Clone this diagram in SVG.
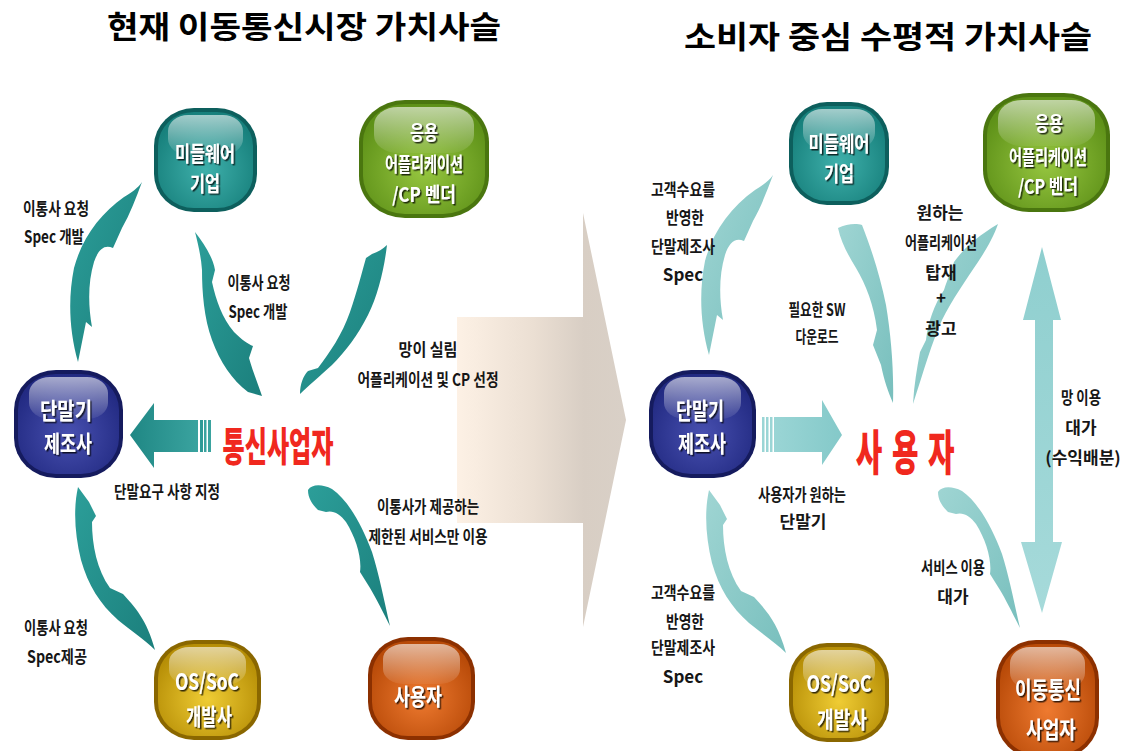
<svg xmlns="http://www.w3.org/2000/svg" width="1123" height="751" viewBox="0 0 1123 751">
<style>
.ttl{font-family:"Noto Sans CJK KR","Noto Sans",sans-serif;font-weight:bold;font-size:31px;fill:#000;text-anchor:middle}
.lb{font-family:"Noto Sans CJK KR","Noto Sans",sans-serif;font-weight:bold;font-size:17px;fill:#161616;text-anchor:middle}
.nt{font-family:"Noto Sans CJK KR","Noto Sans",sans-serif;font-weight:bold;font-size:23px;fill:#fff;text-anchor:middle;filter:url(#ts)}
.nt2{font-size:21px}
.nt3{font-size:20px}
.big{font-family:"Noto Sans CJK KR","Noto Sans",sans-serif;font-weight:900;fill:#f0281e;text-anchor:middle}
.teal .rim{fill:#0d5f5d}.teal .body{fill:url(#gTeal)}
.green .rim{fill:#4a760f}.green .body{fill:url(#gGreen)}
.navy .rim{fill:#151b5e}.navy .body{fill:url(#gNavy)}
.gold .rim{fill:#8a6700}.gold .body{fill:url(#gGold)}
.orange .rim{fill:#8c3000}.orange .body{fill:url(#gOrange)}
.hl{fill:url(#gHl)}
.swL{fill:url(#gSwL)}
.swR{fill:url(#gSwR)}
</style>
<defs>
<filter id="ts" x="-20%" y="-30%" width="140%" height="160%"><feDropShadow dx="1.5" dy="1.5" stdDeviation="0.6" flood-color="#000" flood-opacity="0.75"/></filter>
<radialGradient id="gTeal" cx="50%" cy="60%" r="60%"><stop offset="0" stop-color="#3fb0ab"/><stop offset="1" stop-color="#17807c"/></radialGradient>
<radialGradient id="gGreen" cx="50%" cy="60%" r="60%"><stop offset="0" stop-color="#96c640"/><stop offset="1" stop-color="#5e9118"/></radialGradient>
<radialGradient id="gNavy" cx="50%" cy="60%" r="60%"><stop offset="0" stop-color="#4850b0"/><stop offset="1" stop-color="#222a82"/></radialGradient>
<radialGradient id="gGold" cx="50%" cy="60%" r="60%"><stop offset="0" stop-color="#efcc34"/><stop offset="1" stop-color="#b68e06"/></radialGradient>
<radialGradient id="gOrange" cx="50%" cy="60%" r="60%"><stop offset="0" stop-color="#ee7a30"/><stop offset="1" stop-color="#b84a08"/></radialGradient>
<linearGradient id="gHl" x1="0" y1="0" x2="0" y2="1"><stop offset="0" stop-color="#fff" stop-opacity="0.6"/><stop offset="1" stop-color="#fff" stop-opacity="0.06"/></linearGradient>
<linearGradient id="gSwL" x1="0" y1="0" x2="1" y2="1"><stop offset="0" stop-color="#2c9e99"/><stop offset="1" stop-color="#1b7f7c"/></linearGradient>
<linearGradient id="gSwR" x1="0" y1="0" x2="1" y2="1"><stop offset="0" stop-color="#9fd5d3"/><stop offset="1" stop-color="#78bfbd"/></linearGradient>
<linearGradient id="gBeige" gradientUnits="userSpaceOnUse" x1="457" y1="0" x2="626" y2="0"><stop offset="0" stop-color="#fdf1e5"/><stop offset="0.45" stop-color="#ebdfd3"/><stop offset="0.75" stop-color="#d8cec4"/><stop offset="1" stop-color="#d9d0c7"/></linearGradient>
<linearGradient id="gHL" x1="0" y1="0" x2="1" y2="0"><stop offset="0" stop-color="#1f8784"/><stop offset="1" stop-color="#3aa39f"/></linearGradient>
<linearGradient id="gHR" x1="0" y1="0" x2="1" y2="0"><stop offset="0" stop-color="#9ad5d5"/><stop offset="1" stop-color="#84c9c9"/></linearGradient>
<linearGradient id="gV" x1="0" y1="0" x2="0" y2="1"><stop offset="0" stop-color="#8fcfcf"/><stop offset="1" stop-color="#a6dada"/></linearGradient>
</defs>
<rect width="1123" height="751" fill="#fff"/>

<!-- titles -->
<text class="ttl" x="304" y="38" textLength="394" lengthAdjust="spacingAndGlyphs">현재 이동통신시장 가치사슬</text>
<text class="ttl" x="888" y="48" textLength="408" lengthAdjust="spacingAndGlyphs">소비자 중심 수평적 가치사슬</text>

<!-- big transition arrow -->
<g id="transition-arrow">
<path d="M457,317 L583,317 L583,213 L626,420 L583,627 L583,523 L457,523 Z" fill="url(#gBeige)"/>
</g>

<!-- connectors -->
<g id="connectors">
<!-- left panel -->
<path class="swL" d="M142,182 C136,198 130,214 122,228 L113,248 C104,244 98,250 94,262 C88,282 88,305 92,327 L86,322 L78,362 C69,330 68,298 74,268 C82,238 100,214 124,197 C132,192 138,188 142,182 Z"/>
<path class="swL" d="M195,232 C205,245 213,258 215,270 L212,282 C216,300 222,318 234,332 C242,340 248,344 253,346 L249,358 C253,372 258,384 262,396 L248,392 C232,380 220,362 212,340 C204,318 202,292 202,270 C201,256 198,244 195,232 Z"/>
<path class="swL" d="M387,245 C384,270 378,295 368,315 C358,335 345,352 332,365 C320,376 308,386 300,394 C300,385 303,376 308,371 L318,368 C330,352 342,335 350,312 C357,292 362,272 366,258 L372,254 C378,252 383,249 387,245 Z"/>
<path class="swL" d="M78,487 L89,502 L96,516 L92,522 C92,545 97,570 110,588 L123,594 C135,607 147,620 155,650 C145,640 130,630 118,620 C100,604 88,585 81,560 C75,535 73,510 78,487 Z"/>
<path class="swL" d="M308,490 C312,484 322,484 332,489 C348,500 362,525 372,552 C379,574 384,600 390,626 C383,612 376,598 370,588 L360,572 C362,558 356,538 346,522 C340,514 333,510 326,512 L318,510 C312,504 308,498 308,490 Z"/>
<path d="M130,435 L154,403 L154,420 L198,420 L198,452 L154,452 L154,468 Z" fill="url(#gHL)"/>
<rect x="200" y="420" width="3" height="32" fill="#2e9a96"/>
<rect x="204" y="420" width="2.5" height="32" fill="#3aa39f"/>
<rect x="208" y="420" width="3" height="32" fill="#3aa39f"/>
<!-- right panel -->
<path class="swR" transform="translate(631,-7)" d="M142,182 C136,198 130,214 122,228 L113,248 C104,244 98,250 94,262 C88,282 88,305 92,327 L86,322 L78,362 C69,330 68,298 74,268 C82,238 100,214 124,197 C132,192 138,188 142,182 Z"/>
<path class="swR" d="M838,228 C846,224 856,223 862,225 C870,245 880,275 886,305 C891,335 894,370 893,403 C888,392 884,380 881,365 L873,345 L877,330 C874,305 866,285 856,268 C848,255 841,242 838,228 Z"/>
<path class="swR" d="M998,224 C994,236 986,250 978,262 C966,280 952,300 942,320 C932,342 924,370 913,404 C914,385 917,368 920,352 L926,340 C928,322 934,305 944,290 C948,278 952,268 954,262 C964,248 978,236 998,224 Z"/>
<path class="swR" transform="translate(631,3)" d="M78,487 L89,502 L96,516 L92,522 C92,545 97,570 110,588 L123,594 C135,607 147,620 155,650 C145,640 130,630 118,620 C100,604 88,585 81,560 C75,535 73,510 78,487 Z"/>
<path class="swR" transform="translate(630,2)" d="M308,490 C312,484 322,484 332,489 C348,500 362,525 372,552 C379,574 384,600 390,626 C383,612 376,598 370,588 L360,572 C362,558 356,538 346,522 C340,514 333,510 326,512 L318,510 C312,504 308,498 308,490 Z"/>
<rect x="762" y="417" width="2.5" height="35" fill="#9ad5d5"/>
<rect x="766" y="417" width="2.5" height="35" fill="#9ad5d5"/>
<rect x="770" y="417" width="2.5" height="35" fill="#9ad5d5"/>
<path d="M774,417 L822,417 L822,400 L842,435 L822,465 L822,452 L774,452 Z" fill="url(#gHR)"/>
<path d="M1042,247 L1061,320 L1053,320 L1053,542 L1062,542 L1042,613 L1021,542 L1035,542 L1035,320 L1023,320 Z" fill="url(#gV)"/>
</g>

<!-- labels -->
<g id="labels">
<text class="lb" x="56" y="215" textLength="66" lengthAdjust="spacingAndGlyphs">이통사 요청</text>
<text class="lb" x="54" y="243" textLength="60" lengthAdjust="spacingAndGlyphs">Spec 개발</text>
<text class="lb" x="259" y="289" textLength="63" lengthAdjust="spacingAndGlyphs">이통사 요청</text>
<text class="lb" x="258" y="318" textLength="59" lengthAdjust="spacingAndGlyphs">Spec 개발</text>
<text class="lb" x="428" y="356" textLength="59" lengthAdjust="spacingAndGlyphs">망이 실림</text>
<text class="lb" x="428" y="386" textLength="141" lengthAdjust="spacingAndGlyphs">어플리케이션 및 CP 선정</text>
<text class="lb" x="167" y="498" textLength="106" lengthAdjust="spacingAndGlyphs">단말요구 사항 지정</text>
<text class="lb" x="428" y="513" textLength="102" lengthAdjust="spacingAndGlyphs">이통사가 제공하는</text>
<text class="lb" x="428" y="543" textLength="119" lengthAdjust="spacingAndGlyphs">제한된 서비스만 이용</text>
<text class="lb" x="56" y="634" textLength="64" lengthAdjust="spacingAndGlyphs">이통사 요청</text>
<text class="lb" x="57" y="663" textLength="60" lengthAdjust="spacingAndGlyphs">Spec제공</text>

<text class="lb" x="1081" y="404" textLength="40" lengthAdjust="spacingAndGlyphs">망 이용</text>
<text class="lb" x="1081" y="434">대가</text>
<text class="lb" x="1083" y="464" font-size="13.5">(수익배분)</text>
<text class="lb" x="683" y="196" textLength="64" lengthAdjust="spacingAndGlyphs">고객수요를</text>
<text class="lb" x="685" y="224" textLength="38" lengthAdjust="spacingAndGlyphs">반영한</text>
<text class="lb" x="683" y="253" textLength="64" lengthAdjust="spacingAndGlyphs">단말제조사</text>
<text class="lb" x="683" y="281">Spec</text>
<text class="lb" x="817" y="316" textLength="57" lengthAdjust="spacingAndGlyphs">필요한 SW</text>
<text class="lb" x="817" y="343" textLength="43" lengthAdjust="spacingAndGlyphs">다운로드</text>
<text class="lb" x="940" y="219">원하는</text>
<text class="lb" x="941" y="249" textLength="72" lengthAdjust="spacingAndGlyphs">어플리케이션</text>
<text class="lb" x="941" y="279">탑재</text>
<text class="lb" x="941" y="304">+</text>
<text class="lb" x="941" y="335">광고</text>
<text class="lb" x="802" y="501" textLength="88" lengthAdjust="spacingAndGlyphs">사용자가 원하는</text>
<text class="lb" x="803" y="528">단말기</text>
<text class="lb" x="953" y="574" textLength="64" lengthAdjust="spacingAndGlyphs">서비스 이용</text>
<text class="lb" x="953" y="603">대가</text>
<text class="lb" x="683" y="599" textLength="64" lengthAdjust="spacingAndGlyphs">고객수요를</text>
<text class="lb" x="685" y="628" textLength="38" lengthAdjust="spacingAndGlyphs">반영한</text>
<text class="lb" x="683" y="654" textLength="64" lengthAdjust="spacingAndGlyphs">단말제조사</text>
<text class="lb" x="683" y="683">Spec</text>
</g>

<!-- central actors -->
<g id="telco-center">
<text class="big" x="278" y="461" font-size="40" textLength="111" lengthAdjust="spacingAndGlyphs">통신사업자</text>
</g>
<g id="user-center">
<text class="big" transform="translate(910,470) scale(0.6,1)" font-size="48" letter-spacing="16">사용자</text>
</g>

<!-- left nodes -->
<g id="L-middleware" class="teal">
<rect class="rim" x="154" y="108" width="103" height="104" rx="40" ry="38"/>
<rect class="body" x="158" y="112" width="95" height="96" rx="36" ry="34"/>
<rect class="hl" x="168" y="115" width="75" height="40" rx="20" ry="16"/>
<text class="nt nt2" x="205" y="161" textLength="60" lengthAdjust="spacingAndGlyphs">미들웨어</text>
<text class="nt nt2" x="205" y="191" textLength="30" lengthAdjust="spacingAndGlyphs">기업</text>
</g>
<g id="L-app" class="green">
<rect class="rim" x="359" y="100" width="130" height="118" rx="46" ry="42"/>
<rect class="body" x="363" y="104" width="122" height="110" rx="42" ry="38"/>
<rect class="hl" x="374" y="107" width="100" height="46" rx="24" ry="18"/>
<text class="nt nt3" x="424" y="140" textLength="28" lengthAdjust="spacingAndGlyphs">응용</text>
<text class="nt nt3" x="424" y="172" textLength="78" lengthAdjust="spacingAndGlyphs">어플리케이션</text>
<text class="nt nt3" x="424" y="202" textLength="64" lengthAdjust="spacingAndGlyphs">/CP 벤더</text>
</g>
<g id="L-handset" class="navy">
<rect class="rim" x="14" y="370" width="109" height="108" rx="42" ry="40"/>
<rect class="body" x="18" y="374" width="101" height="100" rx="38" ry="36"/>
<rect class="hl" x="29" y="377" width="79" height="42" rx="21" ry="16"/>
<text class="nt" x="66" y="419" textLength="52" lengthAdjust="spacingAndGlyphs">단말기</text>
<text class="nt" x="68" y="452" textLength="48" lengthAdjust="spacingAndGlyphs">제조사</text>
</g>
<g id="L-os" class="gold">
<rect class="rim" x="154" y="640" width="107" height="100" rx="40" ry="38"/>
<rect class="body" x="158" y="644" width="99" height="92" rx="36" ry="34"/>
<rect class="hl" x="169" y="647" width="77" height="38" rx="20" ry="15"/>
<text class="nt" x="207" y="690" textLength="64" lengthAdjust="spacingAndGlyphs">OS/SoC</text>
<text class="nt" x="209" y="725" textLength="46" lengthAdjust="spacingAndGlyphs">개발사</text>
</g>
<g id="L-user" class="orange">
<rect class="rim" x="368" y="637" width="107" height="103" rx="40" ry="38"/>
<rect class="body" x="372" y="641" width="99" height="95" rx="36" ry="34"/>
<rect class="hl" x="383" y="644" width="77" height="40" rx="20" ry="15"/>
<text class="nt" x="418" y="705" textLength="48" lengthAdjust="spacingAndGlyphs">사용자</text>
</g>

<!-- right nodes -->
<g id="R-middleware" class="teal">
<rect class="rim" x="789" y="102" width="100" height="103" rx="38" ry="38"/>
<rect class="body" x="793" y="106" width="92" height="95" rx="34" ry="34"/>
<rect class="hl" x="803" y="109" width="72" height="40" rx="19" ry="16"/>
<text class="nt nt2" x="839" y="151" textLength="61" lengthAdjust="spacingAndGlyphs">미들웨어</text>
<text class="nt nt2" x="839" y="181" textLength="30" lengthAdjust="spacingAndGlyphs">기업</text>
</g>
<g id="R-app" class="green">
<rect class="rim" x="983" y="93" width="127" height="119" rx="46" ry="42"/>
<rect class="body" x="987" y="97" width="119" height="111" rx="42" ry="38"/>
<rect class="hl" x="998" y="100" width="97" height="46" rx="24" ry="18"/>
<text class="nt nt3" x="1049" y="131" textLength="28" lengthAdjust="spacingAndGlyphs">응용</text>
<text class="nt nt3" x="1048" y="165" textLength="78" lengthAdjust="spacingAndGlyphs">어플리케이션</text>
<text class="nt nt3" x="1048" y="194" textLength="60" lengthAdjust="spacingAndGlyphs">/CP 벤더</text>
</g>
<g id="R-handset" class="navy">
<rect class="rim" x="649" y="370" width="107" height="108" rx="42" ry="40"/>
<rect class="body" x="653" y="374" width="99" height="100" rx="38" ry="36"/>
<rect class="hl" x="664" y="377" width="77" height="42" rx="21" ry="16"/>
<text class="nt" x="700" y="419" textLength="48" lengthAdjust="spacingAndGlyphs">단말기</text>
<text class="nt" x="702" y="452" textLength="48" lengthAdjust="spacingAndGlyphs">제조사</text>
</g>
<g id="R-os" class="gold">
<rect class="rim" x="789" y="643" width="100" height="99" rx="38" ry="37"/>
<rect class="body" x="793" y="647" width="92" height="91" rx="34" ry="33"/>
<rect class="hl" x="803" y="650" width="72" height="38" rx="19" ry="15"/>
<text class="nt" x="839" y="692" textLength="65" lengthAdjust="spacingAndGlyphs">OS/SoC</text>
<text class="nt" x="842" y="728" textLength="50" lengthAdjust="spacingAndGlyphs">개발사</text>
</g>
<g id="R-telco" class="orange">
<rect class="rim" x="996" y="640" width="103" height="118" rx="40" ry="40"/>
<rect class="body" x="1000" y="644" width="95" height="110" rx="36" ry="36"/>
<rect class="hl" x="1010" y="647" width="75" height="42" rx="20" ry="16"/>
<text class="nt" x="1048" y="698" textLength="66" lengthAdjust="spacingAndGlyphs">이동통신</text>
<text class="nt" x="1051" y="738" textLength="50" lengthAdjust="spacingAndGlyphs">사업자</text>
</g>
</svg>
